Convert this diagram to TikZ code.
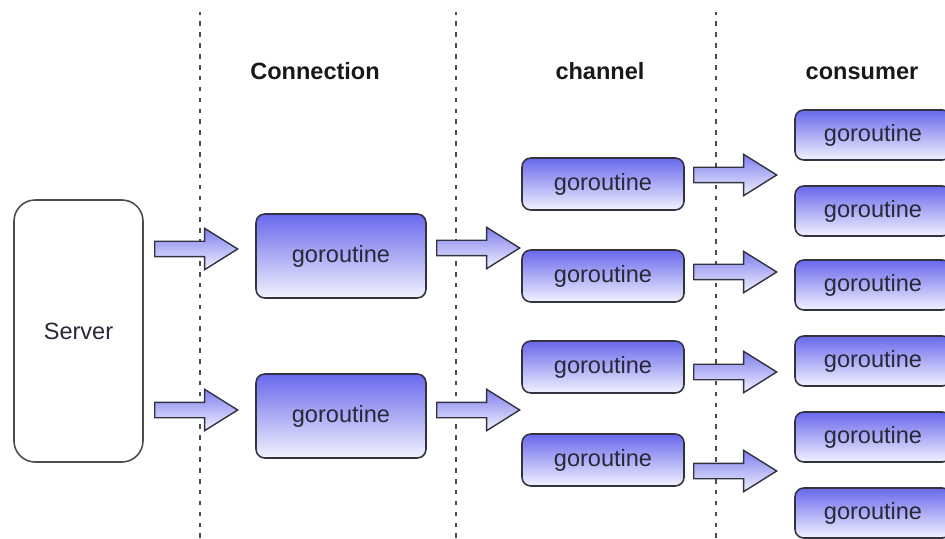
\documentclass[tikz,border=0pt]{standalone}
\usepackage{fontspec}
\setmainfont{Liberation Sans}
\usetikzlibrary{shapes.arrows}
\definecolor{gotop}{RGB}{104,104,236}
\definecolor{gobot}{RGB}{242,242,255}
\definecolor{goline}{RGB}{50,50,64}
\definecolor{gotext}{RGB}{40,40,56}
\tikzset{
  gobox/.style={draw=goline, line width=0.9pt, rounded corners=5pt,
    top color=gotop, bottom color=gobot, text=gotext,
    font=\fontsize{13.4}{15}\selectfont, inner sep=0pt},
  flow/.style={single arrow, draw=goline, line width=0.8pt, inner sep=0.14cm,
    single arrow head extend=0.26cm, single arrow tip angle=64,
    minimum height=1.66cm, top color=gotop!85!white, bottom color=gobot,
    anchor=tail},
  header/.style={font=\bfseries\fontsize{13.4}{15}\selectfont, text=black!90,
    anchor=base},
  divider/.style={draw=black!70, line width=1.3pt, dash pattern=on 2.6pt off 3.6pt}
}
\begin{document}
\begin{tikzpicture}
    \useasboundingbox (0,0) rectangle (18.9,10.76);
    \clip (0,0) rectangle (18.9,10.76);
    % dividers
    \foreach \x in {4.0,9.12,14.32}
        \draw[divider] (\x,0) -- (\x,10.52);
    % headers
    \node[header] (hconn) at (6.3,9.16) {Connection};
    \node[header] (hchan) at (12.0,9.16) {channel};
    \node[header] (hcons) at (17.24,9.16) {consumer};
    % server
    \node[draw=black!70, line width=0.9pt, rounded corners=12pt, fill=white,
      minimum width=2.58cm, minimum height=5.24cm, text=gotext,
      font=\fontsize{13.4}{15}\selectfont] (srv) at (1.57,4.14) {Server};
    % connection goroutines
    \node[gobox, minimum width=3.4cm, minimum height=1.68cm] (conn1) at (6.82,5.64) {goroutine};
    \node[gobox, minimum width=3.4cm, minimum height=1.68cm] (conn2) at (6.82,2.44) {goroutine};
    % channel goroutines
    \foreach \y [count=\i] in {7.08,5.24,3.42,1.56}
        \node[gobox, minimum width=3.24cm, minimum height=1.04cm] (chan\i) at (12.06,\y) {goroutine};
    % consumer goroutines
    \foreach \y [count=\i] in {8.06,6.54,5.06,3.54,2.02,0.5}
        \node[gobox, minimum width=3.12cm, minimum height=1.0cm] (cons\i) at (17.46,\y) {goroutine};
    % block arrows
    \node[flow] (fa1) at (3.08,5.78) {};
    \node[flow] (fa2) at (3.08,2.56) {};
    \node[flow] (fb1) at (8.72,5.80) {};
    \node[flow] (fb2) at (8.72,2.56) {};
    \node[flow] (fc1) at (13.86,7.26) {};
    \node[flow] (fc2) at (13.86,5.32) {};
    \node[flow] (fc3) at (13.86,3.32) {};
    \node[flow] (fc4) at (13.86,1.34) {};
\end{tikzpicture}
\end{document}
